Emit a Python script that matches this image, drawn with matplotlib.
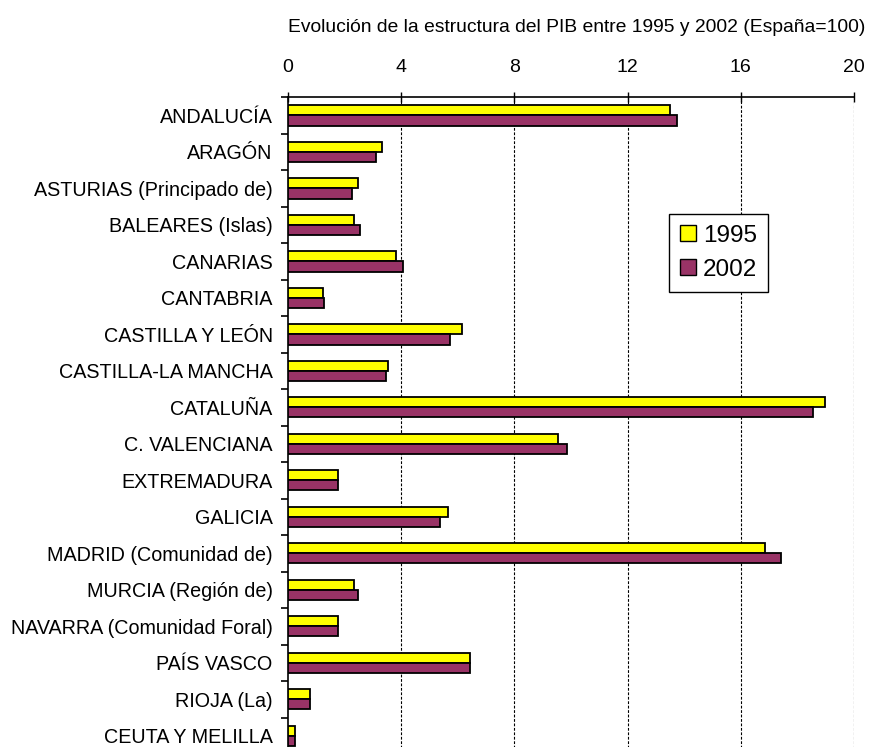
import numpy as np
import matplotlib.pyplot as plt
from matplotlib.patches import Patch

plt.rcParams['font.family'] = ['Liberation Sans', 'DejaVu Sans']

regiones = ['ANDALUCÍA', 'ARAGÓN', 'ASTURIAS (Principado de)', 'BALEARES (Islas)',
            'CANARIAS', 'CANTABRIA', 'CASTILLA Y LEÓN', 'CASTILLA-LA MANCHA',
            'CATALUÑA', 'C. VALENCIANA', 'EXTREMADURA', 'GALICIA',
            'MADRID (Comunidad de)', 'MURCIA (Región de)', 'NAVARRA (Comunidad Foral)',
            'PAÍS VASCO', 'RIOJA (La)', 'CEUTA Y MELILLA']
pib_1995 = [13.48, 3.32, 2.46, 2.32, 3.80, 1.25, 6.13, 3.53, 18.99, 9.53,
            1.75, 5.64, 16.87, 2.32, 1.76, 6.42, 0.76, 0.26]
pib_2002 = [13.76, 3.11, 2.25, 2.54, 4.08, 1.26, 5.72, 3.45, 18.56, 9.87,
            1.75, 5.36, 17.43, 2.46, 1.76, 6.42, 0.76, 0.26]
xticks = [0, 4, 8, 12, 16, 20]

AMARILLO = '#FFFF00'
MORADO = '#993366'

fig = plt.figure(figsize=(8.72, 7.47), dpi=100)
ax = fig.add_axes([0.3303, -0.0094, 0.6491, 0.8795])

y = np.arange(len(regiones))
h = 0.28
ax.barh(y - h / 2, pib_1995, height=h, color=AMARILLO, edgecolor='black', linewidth=1.3, zorder=3)
ax.barh(y + h / 2, pib_2002, height=h, color=MORADO, edgecolor='black', linewidth=1.3, zorder=3)

ax.set_xlim(0, 20)
ax.set_ylim(len(regiones) - 0.5, -0.5)

# eje x arriba
ax.xaxis.tick_top()
ax.set_xticks(xticks)
ax.set_xticklabels([str(t) for t in xticks], fontsize=14)
ax.tick_params(axis='x', direction='inout', length=7, width=1, pad=12)
for t in xticks[1:]:
    ax.axvline(t, color='black', linewidth=0.8, linestyle=(0, (2.5, 1.5)), zorder=1)

# eje y: etiquetas en el centro, marcas entre categorias
ax.set_yticks(y)
ax.set_yticklabels(regiones, fontsize=14.2)
ax.tick_params(axis='y', which='major', length=0, pad=11)
ax.set_yticks(np.arange(len(regiones) + 1) - 0.5, minor=True)
ax.tick_params(axis='y', which='minor', direction='out', length=5, width=1.2)

ax.spines['right'].set_visible(False)
ax.spines['bottom'].set_visible(False)
ax.spines['top'].set_linewidth(1.2)
ax.spines['left'].set_linewidth(1.2)

fig.text(577 / 872, 1 - 27 / 747,
         'Evolución de la estructura del PIB entre 1995 y 2002 (España=100)',
         ha='center', va='center', fontsize=13.9)

handles = [Patch(facecolor=AMARILLO, edgecolor='black', label='1995'),
           Patch(facecolor=MORADO, edgecolor='black', label='2002')]
leg = ax.legend(handles=handles, loc='upper left', bbox_to_anchor=(0.652, 0.841),
                fontsize=17.5, fancybox=False, edgecolor='black', framealpha=1,
                handlelength=0.65, handleheight=0.65, handletextpad=0.3,
                borderpad=0.45, labelspacing=0.5)
leg.get_frame().set_linewidth(1.0)

fig.savefig('out.png', dpi=100)
